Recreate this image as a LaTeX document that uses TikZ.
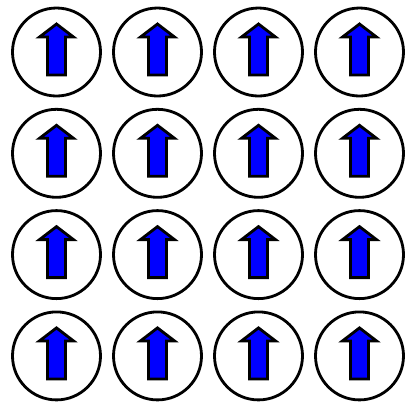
\documentclass[tikz,border=0pt]{standalone}
\usepackage{xcolor}
\definecolor{spinblue}{RGB}{0,0,255}
\usepackage{tikz}

\begin{document}
\begin{tikzpicture}
  \useasboundingbox (0,0) rectangle (4.10,4.06);
  \foreach \i in {0,...,3}{
    \foreach \j in {0,...,3}{
      \begin{scope}[shift={(0.565+1.01*\i,3.54-1.013*\j)}]
        % 圆
        \draw[line width=0.8pt,fill=white] (0,0) circle (0.44);
        % 箭头
        \filldraw[spinblue,draw=black,line width=0.8pt,line join=miter]
          (-0.09,-0.23) -- (-0.09,0.15) -- (-0.17,0.15) -- (0,0.28)
          -- (0.17,0.15) -- (0.09,0.15) -- (0.09,-0.23) -- cycle;
      \end{scope}
    }
  }
\end{tikzpicture}
\end{document}
